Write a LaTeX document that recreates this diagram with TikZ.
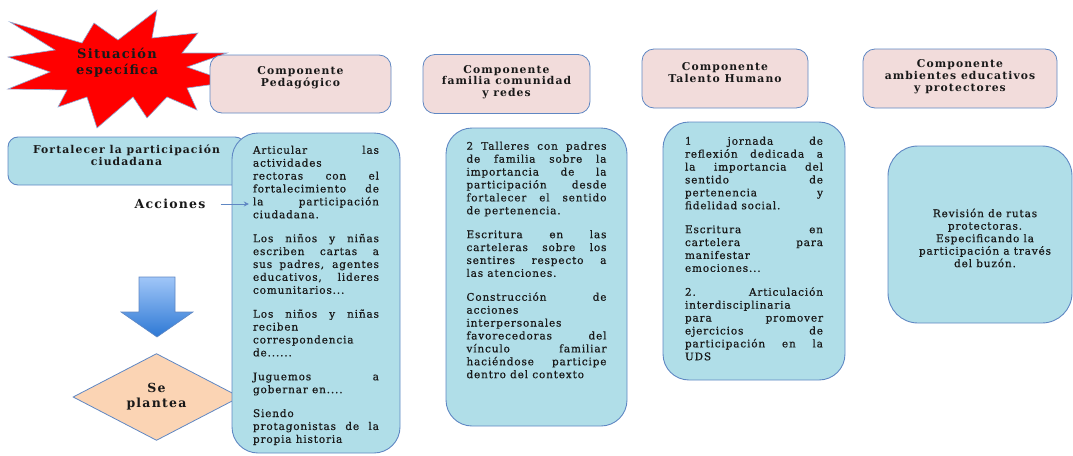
\documentclass[tikz,border=0pt]{standalone}
\usepackage{fontspec}
\setmainfont{DejaVu Serif}
\newfontfamily\cuerpo{DejaVu Serif}[LetterSpace=8, FakeBold=0.6]
\newfontfamily\negrita{DejaVu Serif Bold}[LetterSpace=10]
\usetikzlibrary{positioning, shapes.geometric, arrows.meta}
\definecolor{rosa}{RGB}{242,220,219}
\definecolor{celeste}{RGB}{176,222,232}
\definecolor{borde}{RGB}{95,135,195}
\definecolor{durazno}{RGB}{251,212,180}
\definecolor{tinta}{RGB}{25,25,25}
\definecolor{azulclaro}{RGB}{160,198,248}
\definecolor{azulosc}{RGB}{45,120,212}
\newcommand{\pgap}{\par\vspace{11pt}}

\begin{document}
\begin{tikzpicture}[x=1pt, y=-1pt,
                every node/.style={inner sep=0pt, text=tinta},
                comp/.style={draw=borde, fill=rosa, rounded corners=12pt, line width=0.8pt},
                caja/.style={draw=borde, fill=celeste, rounded corners=26pt, line width=0.9pt},
                tit/.style={font=\negrita\fontsize{10.8}{11.8}\selectfont, align=center},
                txt/.style={font=\cuerpo\fontsize{10.5}{12.9}\selectfont, align=justify, anchor=north},
                flecha/.style={-{Stealth[length=5pt, width=5pt]}, draw=borde, line width=0.8pt}]

    \useasboundingbox (0,0) rectangle (1073,455); % size of the reference

    % star
    \draw[fill=red, draw=borde!70, line width=0.6pt]
        (10,22) -- (82,43) -- (94,23) -- (118,40) -- (157,10) -- (152,38) -- (198,33) -- (182,53)
        -- (227,53) -- (187,67) -- (230,82) -- (187,88) -- (197,110) -- (167,97) -- (147,118)
        -- (133,97) -- (97,128) -- (87,97) -- (58,107) -- (67,90) -- (8,89) -- (50,72) -- (8,57)
        -- (55,50) -- cycle;
    \node [font=\negrita\fontsize{13}{16}\selectfont, align=center] (sit) at (117,63) {Situación\\específica};

    % headers
    \node [comp, minimum width=181, minimum height=58] (comp1) at (300.5,84) {};
    \node [tit] (t1) at ([yshift=6]comp1.center) {Componente\\Pedagógico};
    \node [comp, minimum width=167, minimum height=59] (comp2) at (506.5,84) {};
    \node [tit] (t2) at ([yshift=2]comp2.center) {Componente\\familia comunidad\\y redes};
    \node [comp, minimum width=166, minimum height=59] (comp3) at (725,78.5) {};
    \node [tit] (t3) at ([yshift=6]comp3.center) {Componente\\Talento Humano};
    \node [comp, minimum width=194, minimum height=59] (comp4) at (960,78.5) {};
    \node [tit] (t4) at ([yshift=2]comp4.center) {Componente\\ambientes educativos\\y protectores};

    % left side
    \node [caja, rounded corners=10pt, minimum width=237, minimum height=48] (fort) at (126.5,161) {};
    \node [tit] (tf) at ([yshift=6]fort.center) {Fortalecer la participación\\ciudadana};
    \node [font=\negrita\fontsize{12.5}{14}\selectfont] (acc) at (170,204) {Acciones};

    \shade[top color=azulclaro, bottom color=azulosc, draw=borde, line width=0.6pt]
        (139,277) -- (175,277) -- (175,312) -- (193,312) -- (157,337) -- (121,312) -- (139,312) -- cycle;
    \node [diamond, draw=borde, fill=durazno, line width=0.8pt, minimum width=167, minimum height=80,
           font=\negrita\fontsize{12.5}{15}\selectfont, align=center] (plan) at (156.5,397) {Se\\plantea};

    % boxes of actions
    \node [caja, minimum width=168, minimum height=320] (c1) at (316,293) {};
    \node [txt, text width=126] (x1) at ([yshift=-13]c1.north) {Articular las\linebreak actividades\linebreak rectoras con el\linebreak fortalecimiento de\linebreak la participación\linebreak ciudadana.\pgap
        Los niños y niñas\linebreak escriben cartas a\linebreak sus padres, agentes\linebreak educativos, lideres\linebreak comunitarios...\pgap
        Los niños y niñas\linebreak reciben\linebreak correspondencia\linebreak de......\pgap
        Juguemos a\linebreak gobernar en....\pgap
        Siendo\linebreak protagonistas de la\linebreak propia historia};

    \node [caja, minimum width=181, minimum height=298] (c2) at (536.5,277) {};
    \node [txt, text width=140] (x2) at ([yshift=-14]c2.north) {2 Talleres con padres\linebreak de familia sobre la\linebreak importancia de la\linebreak participación desde\linebreak fortalecer el sentido\linebreak de pertenencia.\pgap
        Escritura en las\linebreak carteleras sobre los\linebreak sentires respecto a\linebreak las atenciones.\pgap
        Construcción de\linebreak acciones\linebreak interpersonales\linebreak favorecedoras del\linebreak vínculo familiar\linebreak haciéndose participe\linebreak dentro del contexto};

    \node [caja, minimum width=182, minimum height=258] (c3) at (754,251) {};
    \node [txt, text width=138] (x3) at ([yshift=-15]c3.north) {1 jornada de\linebreak reflexión dedicada a\linebreak la importancia del\linebreak sentido de\linebreak pertenencia y\linebreak fidelidad social.\pgap
        Escritura en\linebreak cartelera para\linebreak manifestar\linebreak emociones...\pgap
        2. Articulación\linebreak interdisciplinaria\linebreak para promover\linebreak ejercicios de\linebreak participación en la\linebreak UDS};

    \node [caja, rounded corners=30pt, minimum width=184, minimum height=177] (c4) at (980,234.5) {};
    \node [font=\cuerpo\fontsize{10.5}{12.5}\selectfont, align=center] (x4) at (985,238) {Revisión de rutas\\protectoras.\\Especificando la\\participación a través\\del buzón.};

    \draw[flecha] ([xshift=15]acc.east) -- ([xshift=-4]x1.west |- acc.east);

\end{tikzpicture}
\end{document}
